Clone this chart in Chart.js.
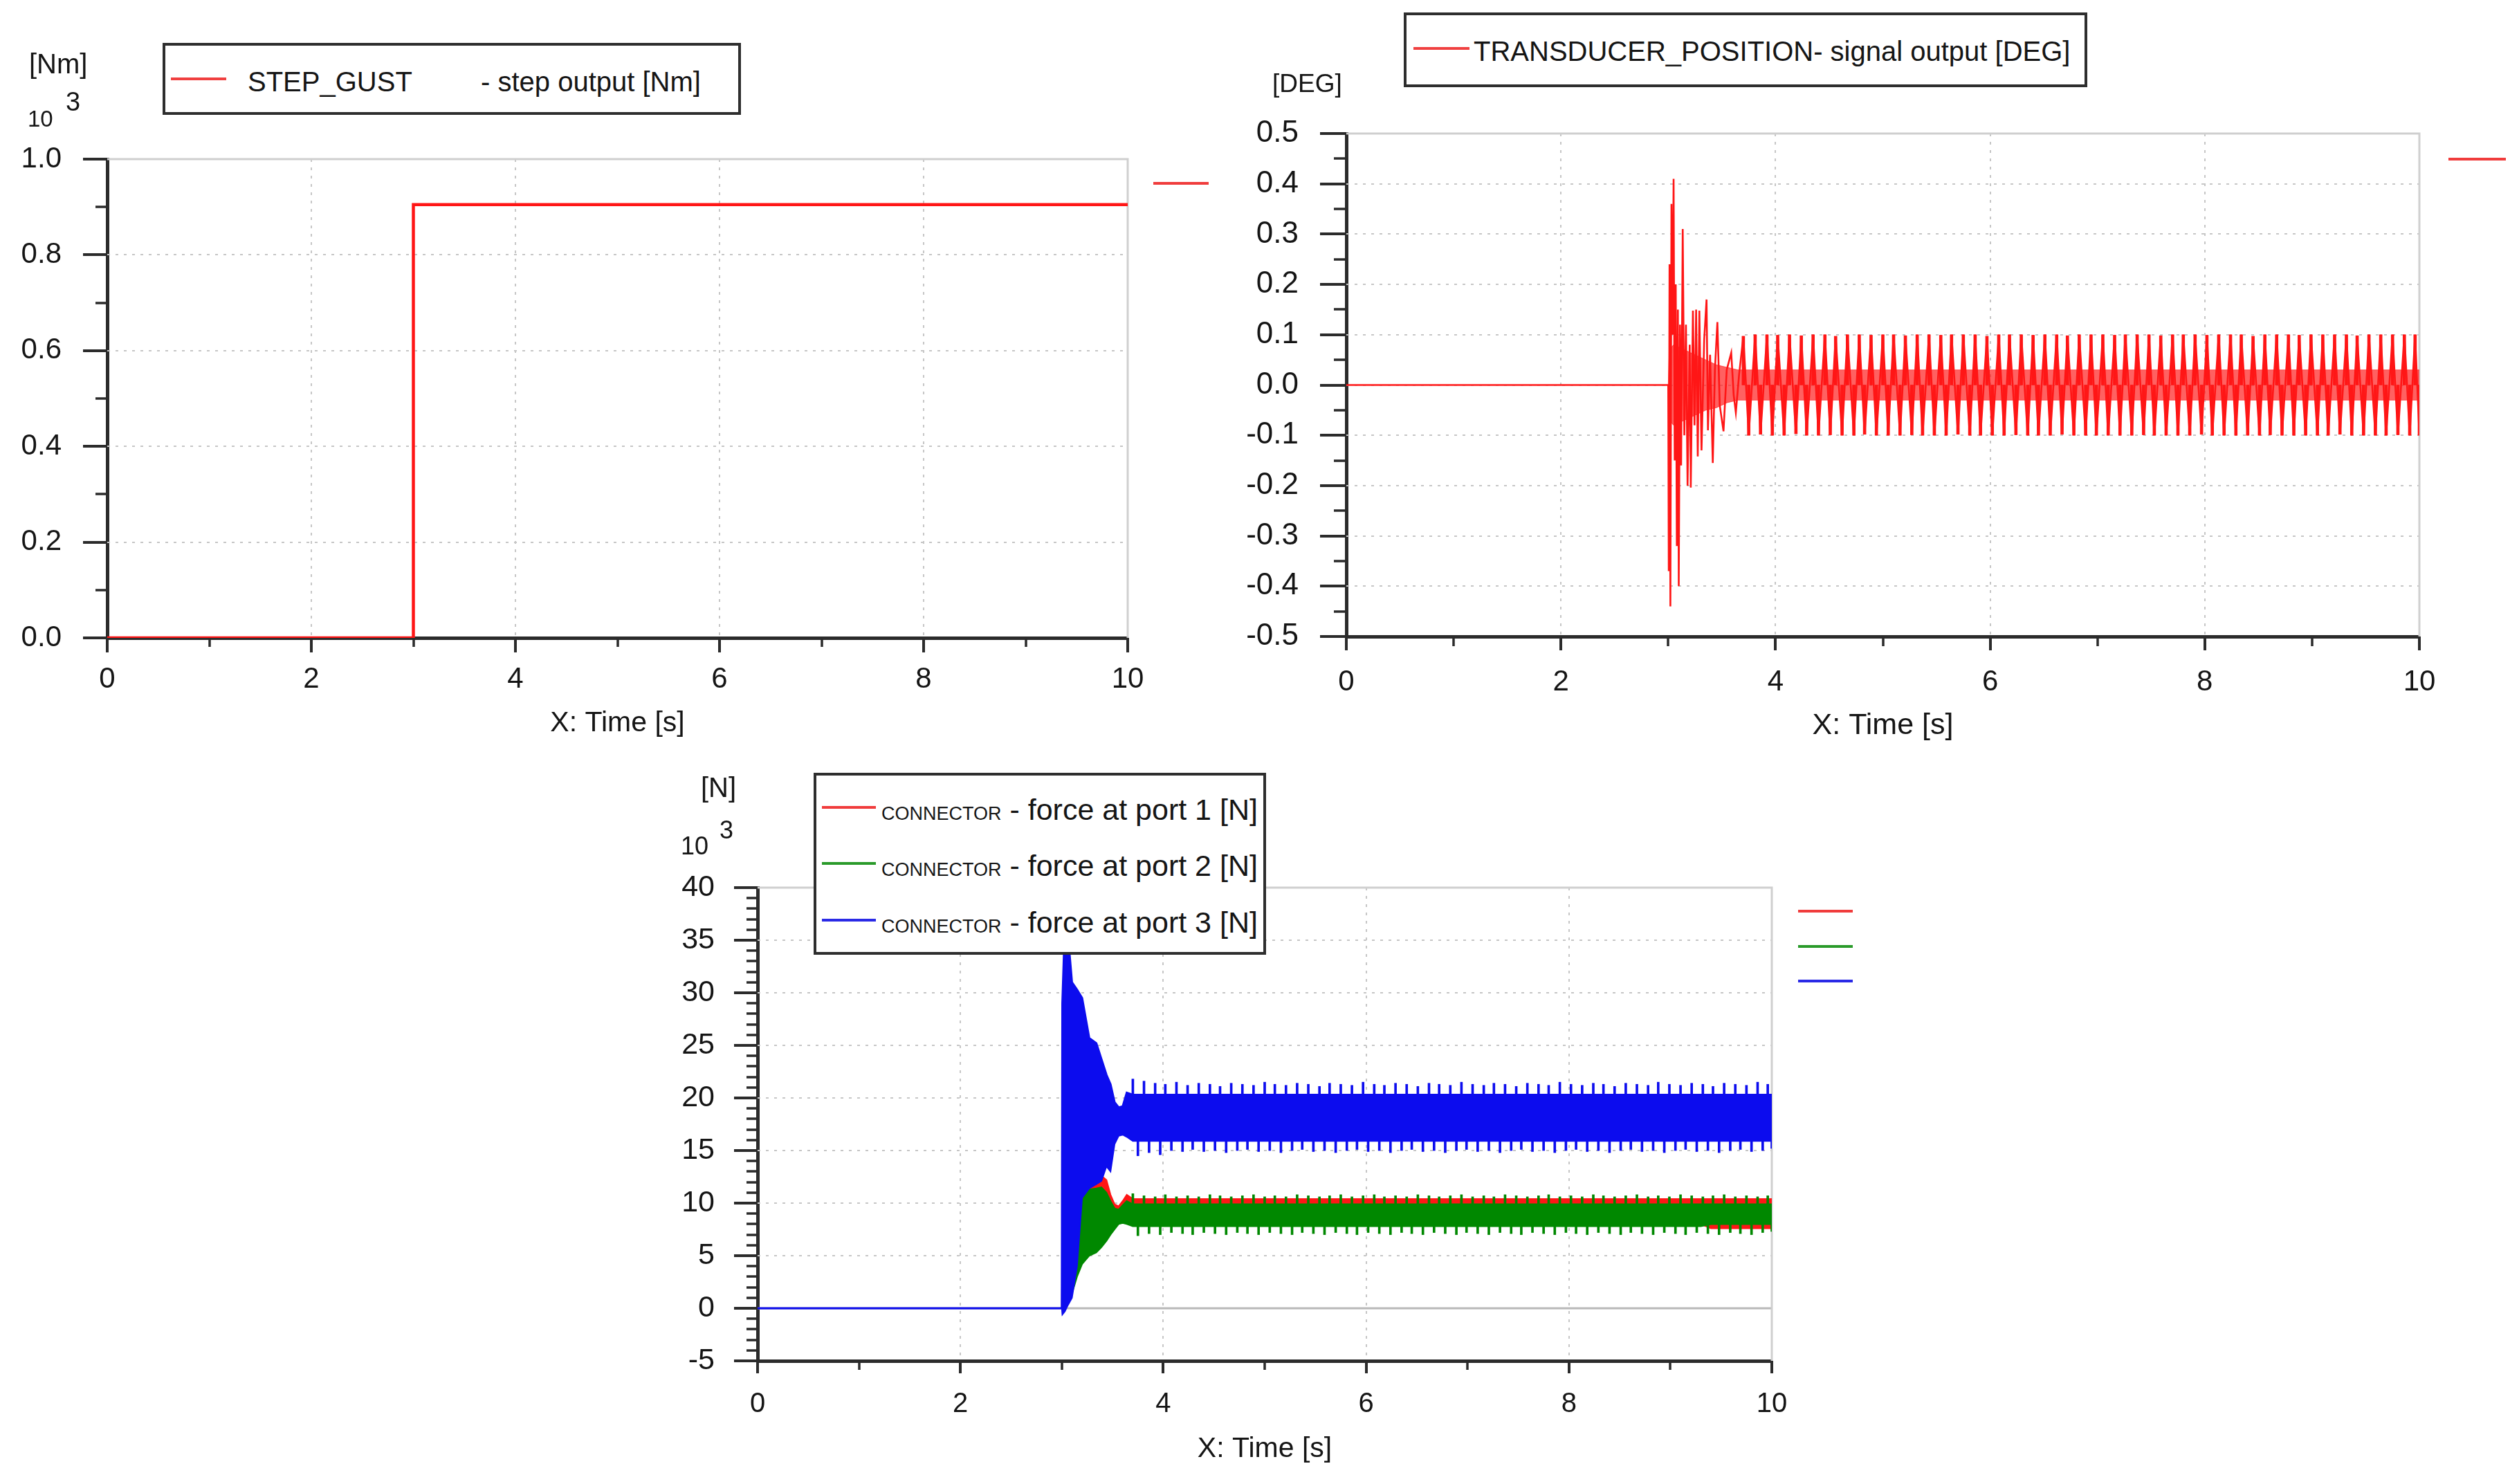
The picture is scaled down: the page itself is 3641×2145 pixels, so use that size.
<!DOCTYPE html>
<html>
<head>
<meta charset="utf-8">
<script src="https://cdn.jsdelivr.net/npm/chart.js@4.4.1/dist/chart.umd.min.js"></script>
<style>
html,body{margin:0;padding:0;background:#fff;}
#page{position:relative;width:3641px;height:2145px;overflow:hidden;background:#fff;font-family:"Liberation Sans",Arial,sans-serif;color:#151515;}
canvas{position:absolute;z-index:1;}
.t{position:absolute;white-space:pre;line-height:1;z-index:6;}
.box{position:absolute;box-sizing:border-box;border:4px solid #2e2e2e;background:#fff;z-index:5;}
.ln{position:absolute;height:4px;z-index:6;}
</style>
</head>
<body>
<div id="page">
  <canvas id="c1" width="1800" height="1100" style="left:0px;top:0px;width:1800px;height:1100px"></canvas>
  <canvas id="c2" width="1861" height="1100" style="left:1780px;top:0px;width:1861px;height:1100px"></canvas>
  <canvas id="c3" width="1800" height="1045" style="left:900px;top:1100px;width:1800px;height:1045px"></canvas>

  <!-- chart 1 decorations -->
  <div class="t" style="left:42px;top:72px;font-size:40px">[Nm]</div>
  <div class="t" style="left:40px;top:155px;font-size:33px">10</div>
  <div class="t" style="left:95px;top:128px;font-size:38px">3</div>
  <div class="box" style="left:235px;top:62px;width:836px;height:104px"></div>
  <div class="ln" style="left:247px;top:112px;width:80px;background:#f04040"></div>
  <div class="t" style="left:358px;top:98px;font-size:40px">STEP_GUST</div>
  <div class="t" style="left:695px;top:98px;font-size:40px">- step output [Nm]</div>
  <div class="ln" style="left:1667px;top:263px;width:80px;background:#f03c3c"></div>

  <!-- chart 2 decorations -->
  <div class="t" style="left:1839px;top:102px;font-size:37px">[DEG]</div>
  <div class="box" style="left:2029px;top:18px;width:988px;height:108px"></div>
  <div class="ln" style="left:2043px;top:68px;width:81px;background:#f04040"></div>
  <div class="t" style="left:2130px;top:54px;font-size:40px">TRANSDUCER_POSITION- signal output [DEG]</div>
  <div class="ln" style="left:3539px;top:228px;width:83px;background:#f03c3c"></div>

  <!-- chart 3 decorations -->
  <div class="t" style="left:1013px;top:1118px;font-size:40px">[N]</div>
  <div class="t" style="left:984px;top:1205px;font-size:36px">10</div>
  <div class="t" style="left:1040px;top:1182px;font-size:36px">3</div>
  <div class="box" style="left:1176px;top:1117px;width:654px;height:263px"></div>
  <div class="ln" style="left:1188px;top:1165px;width:78px;background:#f03c3c"></div>
  <div class="ln" style="left:1188px;top:1246px;width:78px;background:#2a9a2a"></div>
  <div class="ln" style="left:1188px;top:1328px;width:78px;background:#2a2ae6"></div>
  <div class="t" style="left:1274px;top:1149px;font-size:43px"><span style="font-size:27px">CONNECTOR</span> - force at port 1 [N]</div>
  <div class="t" style="left:1274px;top:1230px;font-size:43px"><span style="font-size:27px">CONNECTOR</span> - force at port 2 [N]</div>
  <div class="t" style="left:1274px;top:1312px;font-size:43px"><span style="font-size:27px">CONNECTOR</span> - force at port 3 [N]</div>
  <div class="ln" style="left:2599px;top:1315px;width:79px;background:#f03c3c"></div>
  <div class="ln" style="left:2599px;top:1366px;width:79px;background:#2a9a2a"></div>
  <div class="ln" style="left:2599px;top:1416px;width:79px;background:#2a2ae6"></div>
</div>

<script>
// ---------------- DATA ----------------
// Chart 1: STEP_GUST step output [10^3 Nm]
const stepTime   = [0, 3, 3, 10];
const stepTorque = [0, 0, 0.905, 0.905];

// Chart 2: TRANSDUCER_POSITION signal output [DEG]
const posTransT = [0, 3.0, 3.005, 3.012, 3.02, 3.03, 3.04, 3.05, 3.06, 3.07,
                   3.08, 3.09, 3.098, 3.11, 3.12, 3.135, 3.15, 3.165, 3.18, 3.2,
                   3.21, 3.23, 3.245, 3.26, 3.275, 3.29, 3.31, 3.335, 3.357, 3.37,
                   3.39, 3.415, 3.435, 3.458, 3.48, 3.515, 3.545, 3.587, 3.61, 3.63, 3.66];
const posTransV = [0, 0, -0.37, 0.24, -0.44, 0.36, 0.1, 0.41, -0.15, 0.2,
                   -0.32, 0.15, -0.40, 0.12, -0.16, 0.31, -0.1, 0.12, -0.2, 0.08,
                   -0.204, 0.148, -0.08, 0.15, -0.142, 0.148, -0.13, 0.09, 0.17, -0.09,
                   0.06, -0.155, 0.03, 0.125, -0.04, -0.092, 0.03, 0.064, -0.02, -0.055, 0.02];
const posBandT  = [3.0, 3.01, 3.05, 3.15, 3.25, 3.35, 3.45, 3.55, 3.65, 10];
const posBandUp = [0, 0.07, 0.08, 0.07, 0.06, 0.05, 0.04, 0.035, 0.03, 0.03];
const posBandLo = [0, -0.07, -0.08, -0.07, -0.06, -0.05, -0.045, -0.035, -0.03, -0.03];

// steady oscillation: times of successive peaks / troughs
const oscT = [3.70,3.75,3.81,3.86,3.92,3.97,4.02,4.08,4.13,4.19,
              4.24,4.29,4.35,4.40,4.46,4.51,4.56,4.62,4.67,4.73,
              4.78,4.83,4.89,4.94,5.00,5.05,5.10,5.16,5.21,5.27,
              5.32,5.37,5.43,5.48,5.54,5.59,5.64,5.70,5.75,5.81,
              5.86,5.91,5.97,6.02,6.08,6.13,6.18,6.24,6.29,6.35,
              6.40,6.45,6.51,6.56,6.62,6.67,6.72,6.78,6.83,6.89,
              6.94,6.99,7.05,7.10,7.16,7.21,7.26,7.32,7.37,7.43,
              7.48,7.53,7.59,7.64,7.70,7.75,7.80,7.86,7.91,7.97,
              8.02,8.07,8.13,8.18,8.24,8.29,8.34,8.40,8.45,8.51,
              8.56,8.61,8.67,8.72,8.78,8.83,8.88,8.94,8.99,9.05,
              9.10,9.15,9.21,9.26,9.32,9.37,9.42,9.48,9.53,9.59,
              9.64,9.69,9.75,9.80,9.86,9.91,9.96,10.00];
const posOsc = [0.097,-0.1, 0.1,-0.098, 0.1,-0.1, 0.099,-0.1, 0.1,-0.097, 0.098,-0.1, 0.1,-0.1, 0.1,-0.099, 0.097,-0.1, 0.1,-0.1,
                0.1,-0.098, 0.099,-0.1, 0.1,-0.1, 0.1,-0.1, 0.098,-0.099, 0.1,-0.1, 0.1,-0.1, 0.099,-0.1, 0.1,-0.098, 0.1,-0.1,
                0.1,-0.1, 0.097,-0.1, 0.1,-0.1, 0.1,-0.099, 0.1,-0.1, 0.099,-0.1, 0.1,-0.1, 0.1,-0.098, 0.098,-0.1, 0.1,-0.1,
                0.1,-0.1, 0.1,-0.1, 0.099,-0.1, 0.1,-0.1, 0.1,-0.099, 0.1,-0.1, 0.098,-0.1, 0.1,-0.1, 0.1,-0.1, 0.1,-0.098,
                0.099,-0.1, 0.1,-0.1, 0.1,-0.1, 0.1,-0.1, 0.097,-0.1, 0.1,-0.099, 0.1,-0.1, 0.1,-0.1, 0.099,-0.1, 0.1,-0.1,
                0.1,-0.1, 0.1,-0.098, 0.1,-0.1, 0.098,-0.1, 0.1,-0.1, 0.1,-0.1, 0.1,-0.099, 0.1,-0.1, 0.1,-0.1];

// Chart 3: CONNECTOR forces [10^3 N] — envelopes of the dense bands
const envT    = [0, 3.0, 3.005, 3.03, 3.06, 3.1, 3.15, 3.2, 3.27, 3.34, 3.39, 3.44, 3.48, 3.52, 3.56, 3.6, 3.64, 3.7, 9.3, 9.4, 10];
const p1Upper = [0, 0, 8.0, 10.0, 11.0, 11.2, 11.4, 11.5, 11.6, 12.0, 12.6, 12.2, 10.8, 9.9, 9.7, 10.2, 10.8, 10.4, 10.4, 10.4, 10.4];
const p1Lower = [0, 0, 0, 0.5, 1.0, 2.0, 3.5, 4.8, 5.5, 6.0, 6.3, 6.8, 7.4, 7.8, 8.2, 8.2, 8.1, 8.0, 8.0, 7.6, 7.6];
const p2Upper = [0, 0, 8.0, 10.0, 10.8, 11.0, 11.2, 11.3, 11.3, 11.4, 11.5, 11.0, 10.2, 9.5, 9.4, 9.8, 10.2, 9.9, 9.9, 9.9, 9.9];
const p2Lower = [0, 0, 0, 0.3, 0.8, 1.4, 3.0, 4.2, 5.0, 5.3, 5.8, 6.4, 7.0, 7.5, 8.0, 8.1, 8.0, 7.8, 7.8, 8.0, 8.0];
const p3Upper = [0, 0, 29.0, 36.5, 35.5, 31.0, 30.3, 29.5, 25.7, 25.2, 23.7, 22.2, 21.3, 19.6, 19.1, 19.2, 20.5, 20.3, 20.3, 20.3, 20.3];
const p3Lower = [0, 0, -0.6, -0.3, 0.3, 1.0, 4.0, 10.5, 11.4, 11.8, 12.1, 13.5, 13.0, 15.6, 16.4, 16.5, 16.3, 15.9, 15.9, 15.9, 15.9];
// spike tips of the steady oscillation (same time base oscT)
const p2Osc = [10.9,6.9, 10.7,7.1, 10.6,7.0, 10.8,7.2, 10.6,7.1, 10.7,7.0, 10.6,7.2, 10.8,7.1, 10.7,7.0, 10.6,7.2,
               10.7,7.1, 10.8,7.0, 10.6,7.2, 10.7,7.1, 10.6,7.0, 10.8,7.2, 10.7,7.1, 10.6,7.0, 10.7,7.2, 10.8,7.1,
               10.6,7.0, 10.7,7.2, 10.8,7.1, 10.6,7.0, 10.7,7.2, 10.6,7.1, 10.8,7.0, 10.7,7.2, 10.6,7.1, 10.7,7.0,
               10.8,7.2, 10.6,7.1, 10.7,7.0, 10.6,7.2, 10.8,7.1, 10.7,7.0, 10.6,7.2, 10.7,7.1, 10.8,7.0, 10.6,7.2,
               10.7,7.1, 10.6,7.0, 10.8,7.2, 10.7,7.1, 10.6,7.0, 10.7,7.2, 10.8,7.1, 10.6,7.0, 10.7,7.2, 10.6,7.1,
               10.8,7.0, 10.7,7.2, 10.6,7.1, 10.7,7.0, 10.8,7.2, 10.6,7.1, 10.7,7.0, 10.6,7.2, 10.7,7.3];
const p3Osc = [21.8,14.5, 21.6,14.8, 21.4,14.6, 21.3,15.0, 21.5,14.9, 21.2,15.1, 21.4,14.9, 21.3,15.0, 21.1,14.8, 21.4,15.0,
               21.3,15.1, 21.2,14.9, 21.5,15.0, 21.3,14.8, 21.2,15.0, 21.4,15.1, 21.3,14.9, 21.1,15.0, 21.4,14.8, 21.3,15.0,
               21.2,15.1, 21.5,14.9, 21.3,15.0, 21.2,14.8, 21.4,15.0, 21.3,15.1, 21.1,14.9, 21.4,15.0, 21.3,14.8, 21.2,15.0,
               21.5,15.1, 21.3,14.9, 21.2,15.0, 21.4,14.8, 21.3,15.0, 21.1,15.1, 21.4,14.9, 21.3,15.0, 21.2,14.8, 21.5,15.0,
               21.3,15.1, 21.2,14.9, 21.4,15.0, 21.3,14.8, 21.1,15.0, 21.4,15.1, 21.3,14.9, 21.2,15.0, 21.5,14.8, 21.3,15.0,
               21.2,15.1, 21.4,14.9, 21.3,15.0, 21.1,14.8, 21.4,15.0, 21.3,15.1, 21.2,14.9, 21.5,15.0, 21.3,15.2];

// ---------------- HELPERS ----------------
const RED = 'rgb(255,22,22)', GREEN = 'rgb(0,136,0)', BLUE = 'rgb(12,12,238)';
const FONT = '"Liberation Sans", Arial, sans-serif';
const isMul = (v, m) => Math.abs(v / m - Math.round(v / m)) < 1e-6;
const pts = (xs, ys) => xs.map((t, i) => ({x: t, y: ys[i]}));
// spikes drawn as floating bars from the band edge (upper / lower) to the tip
const spikes = (xs, ys, up, lo) => xs.map((t, i) => {
  const v = ys[i];
  return {x: t, y: v > (up + lo) / 2 ? [up, v] : [v, lo]};
});
const last = arr => arr[arr.length - 1];

Chart.defaults.font.family = FONT;
Chart.defaults.color = '#151515';
Chart.defaults.animation = false;

const deco = {
  id: 'deco',
  beforeDatasetsDraw(chart, args, o) {
    const ctx = chart.ctx, a = chart.chartArea, x = chart.scales.x, y = chart.scales.y;
    ctx.save();
    ctx.lineWidth = 2; ctx.strokeStyle = '#c6c6c6'; ctx.setLineDash([4, 8]);
    ctx.beginPath();
    x.ticks.forEach(t => {
      const v = t.value;
      if (isMul(v, o.xMajor) && v > x.min + 1e-9 && v < x.max - 1e-9) {
        const p = Math.round(x.getPixelForValue(v));
        ctx.moveTo(p, a.top); ctx.lineTo(p, a.bottom);
      }
    });
    y.ticks.forEach(t => {
      const v = t.value;
      if (isMul(v, o.yMajor) && v > y.min + 1e-9 && v < y.max - 1e-9 && !(o.zeroSolid && Math.abs(v) < 1e-9)) {
        const p = Math.round(y.getPixelForValue(v));
        ctx.moveTo(a.left, p); ctx.lineTo(a.right, p);
      }
    });
    ctx.stroke();
    ctx.setLineDash([]);
    if (o.zeroSolid) {
      const p = Math.round(y.getPixelForValue(0));
      ctx.lineWidth = 3; ctx.strokeStyle = '#b9b9b9';
      ctx.beginPath(); ctx.moveTo(a.left, p); ctx.lineTo(a.right, p); ctx.stroke();
    }
    ctx.lineWidth = 3; ctx.strokeStyle = '#cfcfcf';
    ctx.beginPath(); ctx.moveTo(a.left, a.top); ctx.lineTo(a.right, a.top); ctx.lineTo(a.right, a.bottom); ctx.stroke();
    ctx.restore();
  },
  afterDraw(chart, args, o) {
    const ctx = chart.ctx, a = chart.chartArea, x = chart.scales.x, y = chart.scales.y;
    ctx.save(); ctx.strokeStyle = '#2b2b2b';
    y.ticks.forEach(t => {
      const maj = isMul(t.value, o.yMajor);
      const len = maj ? o.yLen[0] : o.yLen[1];
      const p = Math.round(y.getPixelForValue(t.value));
      ctx.lineWidth = maj ? 4 : 3.5;
      ctx.beginPath(); ctx.moveTo(a.left - len, p); ctx.lineTo(a.left, p); ctx.stroke();
    });
    x.ticks.forEach(t => {
      const maj = isMul(t.value, o.xMajor);
      const len = maj ? o.xLen[0] : o.xLen[1];
      const p = Math.round(x.getPixelForValue(t.value));
      ctx.lineWidth = maj ? 4 : 3.5;
      ctx.beginPath(); ctx.moveTo(p, a.bottom); ctx.lineTo(p, a.bottom + len); ctx.stroke();
    });
    ctx.restore();
  }
};

function makeChart(id, cfg) {
  const axisBorder = {display: true, color: '#2b2b2b', width: 5};
  return new Chart(document.getElementById(id), {
    type: 'line',
    data: {datasets: cfg.datasets},
    plugins: [deco],
    options: {
      responsive: false,
      devicePixelRatio: 1,
      animation: false,
      events: [],
      layout: {autoPadding: false, padding: cfg.padding},
      elements: {point: {radius: 0}, line: {tension: 0}},
      plugins: {
        legend: {display: false},
        tooltip: {enabled: false},
        deco: cfg.deco
      },
      scales: {
        x: {
          type: 'linear', min: 0, max: 10, offset: false,
          grid: {display: false, drawTicks: false, offset: false},
          border: axisBorder,
          ticks: {stepSize: 1, autoSkip: false, maxRotation: 0, padding: cfg.xPad,
                  font: {size: cfg.xFont}, color: '#151515',
                  callback: v => isMul(v, 2) ? String(Math.round(v)) : ''},
          title: {display: true, text: 'X: Time [s]', color: '#151515',
                  font: {size: cfg.titleFont}, padding: {top: 0, bottom: cfg.titlePad}},
          afterFit: s => { s.height = cfg.xH; }
        },
        y: {
          type: 'linear', min: cfg.yMin, max: cfg.yMax,
          grid: {display: false, drawTicks: false},
          border: axisBorder,
          ticks: {stepSize: cfg.yStep, autoSkip: false, padding: cfg.yPad,
                  font: {size: cfg.yFont}, color: '#151515', callback: cfg.yLabel},
          afterFit: s => { s.width = cfg.yW; }
        }
      }
    }
  });
}

// ---------------- CHART 1 ----------------
makeChart('c1', {
  padding: {left: 0, top: 230, right: 170, bottom: 0},
  xH: 178, yW: 155, xPad: 35, yPad: 66, xFont: 42, yFont: 42, titleFont: 41, titlePad: 30,
  yMin: 0, yMax: 1, yStep: 0.1,
  yLabel: v => isMul(v, 0.2) ? (Math.round(v * 10) / 10).toFixed(1) : '',
  deco: {xMajor: 2, yMajor: 0.2, xLen: [21, 13], yLen: [35, 17], zeroSolid: false},
  datasets: [{
    data: pts(stepTime, stepTorque), borderColor: RED, borderWidth: 4.5, fill: false
  }]
});

// ---------------- CHART 2 ----------------
const barOpts = {type: 'bar', grouped: false, borderWidth: 0, borderSkipped: false};
makeChart('c2', {
  padding: {left: 0, top: 193, right: 144, bottom: 0},
  xH: 180, yW: 166, xPad: 41, yPad: 69, xFont: 42, yFont: 44, titleFont: 43, titlePad: 25,
  yMin: -0.5, yMax: 0.5, yStep: 0.05,
  yLabel: v => isMul(v, 0.1) ? (Math.round(v * 10) / 10).toFixed(1) : '',
  deco: {xMajor: 2, yMajor: 0.1, xLen: [20, 14], yLen: [38, 18], zeroSolid: false},
  datasets: [
    {data: pts(posBandT, posBandUp), borderColor: 'rgba(255,30,30,0.7)', borderWidth: 1, fill: false, order: 2},
    {data: pts(posBandT, posBandLo), borderColor: 'rgba(255,30,30,0.7)', borderWidth: 1,
     fill: '-1', backgroundColor: 'rgba(255,30,30,0.7)', order: 2},
    {data: pts(posTransT, posTransV).concat(pts(oscT, posOsc)), borderColor: RED, borderWidth: 2.6, fill: false, order: 1},
    Object.assign({data: spikes(oscT, posOsc, 0.0, 0.0), backgroundColor: RED, barThickness: 4, order: 0}, barOpts)
  ]
});

// ---------------- CHART 3 ----------------
makeChart('c3', {
  padding: {left: 0, top: 183, right: 139, bottom: 0},
  xH: 178, yW: 195, xPad: 39, yPad: 62, xFont: 40, yFont: 43, titleFont: 41, titlePad: 26,
  yMin: -5, yMax: 40, yStep: 1,
  yLabel: v => isMul(v, 5) ? String(Math.round(v)) : '',
  deco: {xMajor: 2, yMajor: 5, xLen: [18, 13], yLen: [34, 16], zeroSolid: true},
  datasets: [
    // port 1 (red) — lowest
    {data: pts(envT, p1Upper), borderColor: RED, borderWidth: 2, fill: false, order: 3},
    {data: pts(envT, p1Lower), borderColor: RED, borderWidth: 2, fill: '-1', backgroundColor: RED, order: 3},
    // port 2 (green)
    {data: pts(envT, p2Upper), borderColor: GREEN, borderWidth: 2, fill: false, order: 2},
    {data: pts(envT, p2Lower), borderColor: GREEN, borderWidth: 2, fill: '-1', backgroundColor: GREEN, order: 2},
    Object.assign({data: spikes(oscT, p2Osc, last(p2Upper), last(p2Lower)), backgroundColor: GREEN, barThickness: 3, order: 2}, barOpts),
    // port 3 (blue) — on top
    {data: pts(envT, p3Upper), borderColor: BLUE, borderWidth: 3, fill: false, order: 1},
    {data: pts(envT, p3Lower), borderColor: BLUE, borderWidth: 2, fill: '-1', backgroundColor: BLUE, order: 1},
    Object.assign({data: spikes(oscT, p3Osc, last(p3Upper), last(p3Lower)), backgroundColor: BLUE, barThickness: 3, order: 1}, barOpts)
  ]
});
</script>
</body>
</html>
